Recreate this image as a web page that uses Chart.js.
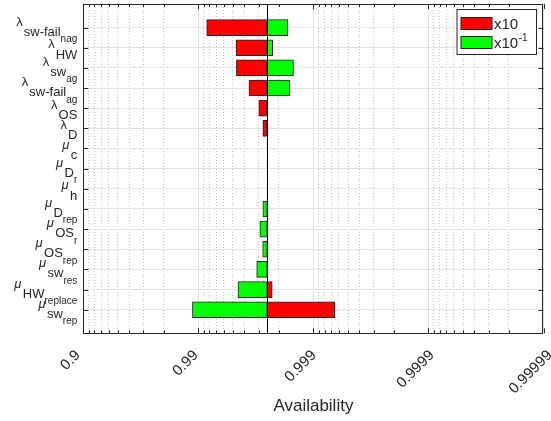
<!DOCTYPE html>
<html>
<head>
<meta charset="utf-8">
<script src="https://cdn.jsdelivr.net/npm/chart.js@4.4.1/dist/chart.umd.min.js"></script>
<style>
  body { margin: 0; background: #fff; }
</style>
</head>
<body>
<canvas id="myChart" width="551" height="421"></canvas>
<script>
// parameter names: symbol, subscript, second level subscript
const symbols = ['λ', 'λ', 'λ', 'λ', 'λ', 'λ', 'μ', 'μ', 'μ', 'μ', 'μ', 'μ', 'μ', 'μ', 'μ'];
const subs = ['sw-fail', 'HW', 'sw', 'sw-fail', 'OS', 'D', 'c', 'D', 'h', 'D', 'OS', 'OS', 'sw', 'HW', 'sw'];
const subSubs = ['nag', '', 'ag', 'ag', '', '', '', 'r', '', 'rep', 'r', 'rep', 'res', 'replace', 'rep'];

// availability at nominal parameters, and with each parameter x10 / x0.1
const baseAvail = 0.99748;
const availX10 = [0.99154, 0.99529, 0.99533, 0.99637, 0.99702, 0.99725, 0.99749, 0.99749, 0.99749,
  0.99752, 0.99752, 0.99752, 0.99752, 0.99772, 0.99935];
const availX01 = [0.99833, 0.99774, 0.99851, 0.99840, 0.99750, 0.99750, 0.99747, 0.99747, 0.99747,
  0.99725, 0.99708, 0.99724, 0.99689, 0.99548, 0.98875];

const xTickLabels = ['0.9', '0.99', '0.999', '0.9999', '0.99999'];

const textColor = '#262626';
const fontFam = '"Liberation Sans", Arial, Helvetica, sans-serif';
Chart.defaults.font.family = fontFam;
Chart.defaults.color = textColor;

const rows = symbols.map((s, i) => i + 1);
const toU = a => 1 - a;   // plotted as unavailability on a reversed log axis

// log ticks: majors from the labels, minors 2..9 inside each decade
const majorU = xTickLabels.map(t => toU(parseFloat(t))).sort((a, b) => a - b);
const xTicks = [];
majorU.forEach((u, i) => {
  xTicks.push({value: u, major: true});
  if (i < majorU.length - 1) {
    for (let k = 2; k <= 9; k++) xTicks.push({value: u * k, major: false});
  }
});
xTicks.sort((a, b) => a.value - b.value);

const ctx = document.getElementById('myChart');

const decor = {
  id: 'decor',
  afterDatasetsDraw(chart) {
    const {ctx, chartArea: a, scales: {x, y}} = chart;
    ctx.save();
    // nominal line
    const bx = Math.round(x.getPixelForValue(toU(baseAvail))) + 0.5;
    ctx.strokeStyle = '#000';
    ctx.lineWidth = 1;
    ctx.beginPath();
    ctx.moveTo(bx, a.top);
    ctx.lineTo(bx, a.bottom);
    ctx.stroke();

    // box and inward ticks
    ctx.strokeStyle = textColor;
    ctx.beginPath();
    x.ticks.forEach(t => {
      const px = Math.round(x.getPixelForValue(t.value)) + 0.5;
      const len = t.major ? 5 : 3;
      ctx.moveTo(px, a.bottom); ctx.lineTo(px, a.bottom - len);
      ctx.moveTo(px, a.top); ctx.lineTo(px, a.top + len);
    });
    y.ticks.forEach(t => {
      const py = Math.round(y.getPixelForValue(t.value)) + 0.5;
      ctx.moveTo(a.left, py); ctx.lineTo(a.left + 5, py);
      ctx.moveTo(a.right, py); ctx.lineTo(a.right - 5, py);
    });
    ctx.stroke();
    ctx.strokeRect(Math.round(a.left) + 0.5, Math.round(a.top) + 0.5,
      Math.round(a.width) - 1, Math.round(a.height));
    ctx.restore();
  },
  afterDraw(chart) {
    const {ctx, chartArea: a, scales: {x, y}} = chart;
    ctx.save();
    ctx.fillStyle = textColor;

    // rotated x tick labels (matlab style placement)
    ctx.font = '15px ' + fontFam;
    ctx.textAlign = 'center';
    ctx.textBaseline = 'middle';
    xTickLabels.forEach(lbl => {
      const px = x.getPixelForValue(toU(parseFloat(lbl)));
      const w = ctx.measureText(lbl).width;
      const cx = px - 12.8;
      const cy = a.bottom + 16 + (w + 10.5) / (2 * Math.SQRT2);
      ctx.save();
      ctx.translate(cx, cy);
      ctx.rotate(-Math.PI / 4);
      ctx.fillText(lbl, 0, 0);
      ctx.restore();
    });

    // y labels with subscripts
    ctx.textBaseline = 'alphabetic';
    ctx.textAlign = 'left';
    const fSym = '13px ' + fontFam;
    const fSub = '13px ' + fontFam;
    const fSS = '10px ' + fontFam;
    rows.forEach((r, i) => {
      const c = y.getPixelForValue(r);
      const hasSS = subSubs[i] !== '';
      ctx.font = fSym; const w1 = ctx.measureText(symbols[i]).width;
      ctx.font = fSub; const w2 = ctx.measureText(subs[i]).width;
      ctx.font = fSS; const w3 = hasSS ? ctx.measureText(subSubs[i]).width : 0;
      let px = a.left - 6 - (w1 + w2 + w3 + 1);
      const b0 = hasSS ? c - 2 : c + 0.5;
      ctx.font = (symbols[i] === 'μ' ? 'italic ' : '') + fSym;
      ctx.fillText(symbols[i], px, b0);
      px += w1 + 1;
      ctx.font = fSub;
      ctx.fillText(subs[i], px, hasSS ? c + 8 : c + 11);
      px += w2;
      if (hasSS) {
        ctx.font = fSS;
        ctx.fillText(subSubs[i], px, c + 14.5);
      }
    });

    // legend box, top right inside the axes
    const lx = a.right - 87, ly = a.top + 5, lw = 79.5, lh = 45;
    ctx.fillStyle = '#fff';
    ctx.fillRect(lx, ly, lw, lh);
    ctx.strokeStyle = textColor;
    ctx.lineWidth = 1;
    ctx.strokeRect(lx + 0.5, ly + 0.5, lw, lh);
    chart.data.datasets.forEach((ds, i) => {
      const ty = ly + 8 + i * 19;
      ctx.fillStyle = ds.backgroundColor;
      ctx.fillRect(lx + 4.5, ty + 0.5, 31, 12);
      ctx.strokeStyle = '#222';
      ctx.strokeRect(lx + 4.5, ty + 0.5, 31, 12);
      ctx.fillStyle = textColor;
      ctx.font = '15px ' + fontFam;
      ctx.fillText('x10', lx + 37.5, ty + 12);
      if (i === 1) {
        const w = ctx.measureText('x10').width;
        ctx.font = '10px ' + fontFam;
        ctx.fillText('-1', lx + 38 + w, ty + 5);
      }
    });
    ctx.restore();
  }
};

const chart = new Chart(ctx, {
  type: 'bar',
  data: {
    datasets: [{
      label: 'x10',
      data: availX10.map((v, i) => ({x: [toU(baseAvail), toU(v)], y: rows[i]})),
      backgroundColor: '#ff0000',
      borderColor: '#222',
      borderWidth: 1,
      borderSkipped: false,
      barThickness: 16,
      grouped: false
    }, {
      label: 'x10^-1',
      data: availX01.map((v, i) => ({x: [toU(baseAvail), toU(v)], y: rows[i]})),
      backgroundColor: '#00ff00',
      borderColor: '#222',
      borderWidth: 1,
      borderSkipped: false,
      barThickness: 16,
      grouped: false
    }]
  },
  options: {
    indexAxis: 'y',
    responsive: false,
    animation: false,
    layout: {padding: {top: 4, right: 7.5, left: 0, bottom: 0}},
    plugins: {
      legend: {display: false},
      tooltip: {enabled: false}
    },
    scales: {
      x: {
        type: 'logarithmic',
        reverse: true,
        min: majorU[0],
        max: majorU[majorU.length - 1],
        afterBuildTicks: s => { s.ticks = xTicks.map(t => ({...t})); },
        grid: {
          color: c => (c.tick && !c.tick.major) ? '#c4c4c4' : '#e0e0e0',
          drawTicks: false
        },
        border: {
          display: false,
          dash: c => (c.tick && !c.tick.major) ? [1, 2] : []
        },
        ticks: {display: false},
        title: {
          display: true,
          text: 'Availability',
          color: textColor,
          font: {size: 17},
          padding: {top: 0, bottom: 4}
        },
        afterFit: s => { s.height = 87.7; s.paddingLeft = 0; s.paddingRight = 0; }
      },
      y: {
        type: 'linear',
        reverse: true,
        offset: false,
        min: -0.17,
        max: 16.17,
        afterBuildTicks: s => { s.ticks = rows.map(v => ({value: v})); },
        grid: {color: '#e3e3e3', drawTicks: false, offset: false},
        border: {display: false},
        ticks: {display: false},
        afterFit: s => { s.width = 83.3; }
      }
    }
  },
  plugins: [decor]
});
</script>
</body>
</html>
